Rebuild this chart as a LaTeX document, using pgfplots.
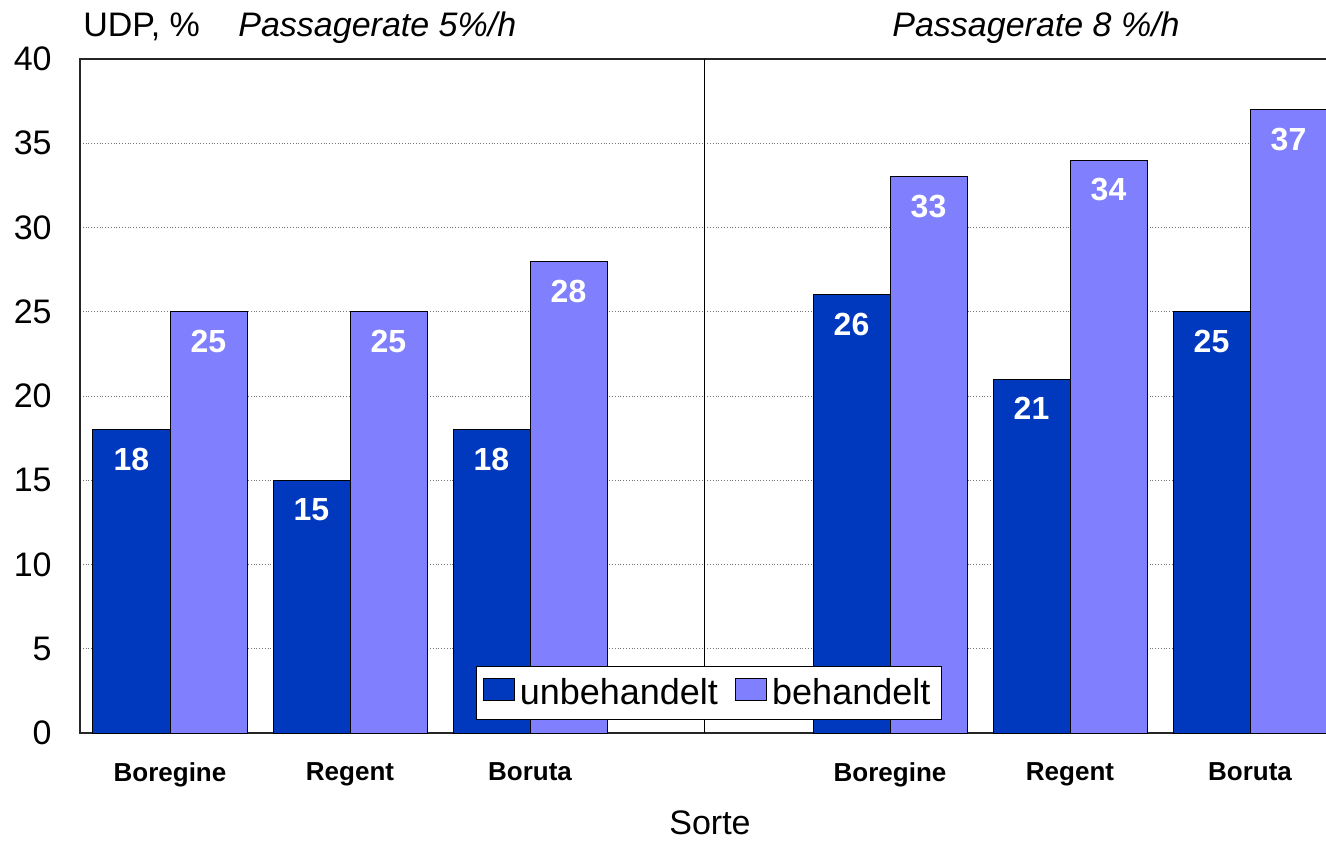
\documentclass[border=0pt]{standalone}
\usepackage{fontspec}
\setmainfont{Liberation Sans}
\usepackage{pgfplots}
\pgfplotsset{compat=1.18}
\definecolor{dblue}{RGB}{0,56,190}
\definecolor{lblue}{RGB}{128,128,255}
\begin{document}
\begin{tikzpicture}
\begin{axis}[
  at={(0,0)}, anchor=south west, scale only axis,
  width=630pt, height=337pt,
  xmin=-0.5, xmax=6.5, ymin=0, ymax=40,
  clip=false,
  ybar=0pt, bar width=38.5pt,
  xtick={0,1,2,4,5,6},
  xticklabels={Boregine,Regent,Boruta,Boregine,Regent,Boruta},
  ytick={0,5,...,40},
  major tick length=0pt,
  ymajorgrids,
  grid style={densely dotted, black!55, line width=0.5pt},
  axis line style={black!85, line width=0.8pt},
  /pgf/number format/assume math mode=true,
  font=\fontsize{17}{20}\selectfont,
  xticklabel style={font=\fontsize{13}{15}\selectfont\bfseries, anchor=north, inner sep=0pt, yshift=-14.5pt},
  yticklabel style={font=\fontsize{17}{20}\selectfont, anchor=east, inner sep=0pt, xshift=-14pt},
  nodes near coords,
  nodes near coords style={font=\fontsize{16}{18}\selectfont\bfseries, text=white, anchor=north, inner sep=0pt, yshift=-9pt},
  legend columns=2,
  legend style={at={(0.3143,0.0193)}, anchor=south west, draw=black, line width=0.6pt,
    font=\fontsize{18}{20}\selectfont, inner xsep=3pt, inner ysep=3.5pt,
    nodes={inner sep=2.5pt},
    /tikz/every even column/.append style={column sep=6pt}},
  legend image code/.code={\draw[#1, line width=0.6pt] (0pt,-4pt) rectangle (15.5pt,7pt);},
]
\addplot[draw=black, line width=0.5pt, fill=dblue] coordinates {(0,18) (1,15) (2,18) (4,26) (5,21) (6,25)};
\addlegendentry{unbehandelt}
\addplot[draw=black, line width=0.5pt, fill=lblue] coordinates {(0,25) (1,25) (2,28) (4,33) (5,34) (6,37)};
\addlegendentry{behandelt}
\draw[black, line width=0.6pt] (axis cs:2.97,0) -- (axis cs:2.97,40);
\node[anchor=base west, inner sep=0pt, font=\fontsize{17}{20}\selectfont] at (rel axis cs:0,1) [xshift=1.5pt, yshift=11pt] {UDP, \%};
\node[anchor=base west, inner sep=0pt, font=\fontsize{17}{20}\selectfont\itshape] at (rel axis cs:0,1) [xshift=79pt, yshift=11pt] {Passagerate 5\%/h};
\node[anchor=base west, inner sep=0pt, font=\fontsize{17}{20}\selectfont\itshape] at (rel axis cs:0,1) [xshift=406pt, yshift=11pt] {Passagerate 8 \%/h};
\node[anchor=base, inner sep=0pt, font=\fontsize{17}{20}\selectfont] at (axis cs:3,0) [yshift=-50.5pt] {Sorte};
\end{axis}
\pgfresetboundingbox
\useasboundingbox (-40pt,-54pt) rectangle (623pt,366.5pt);
\end{tikzpicture}
\end{document}
